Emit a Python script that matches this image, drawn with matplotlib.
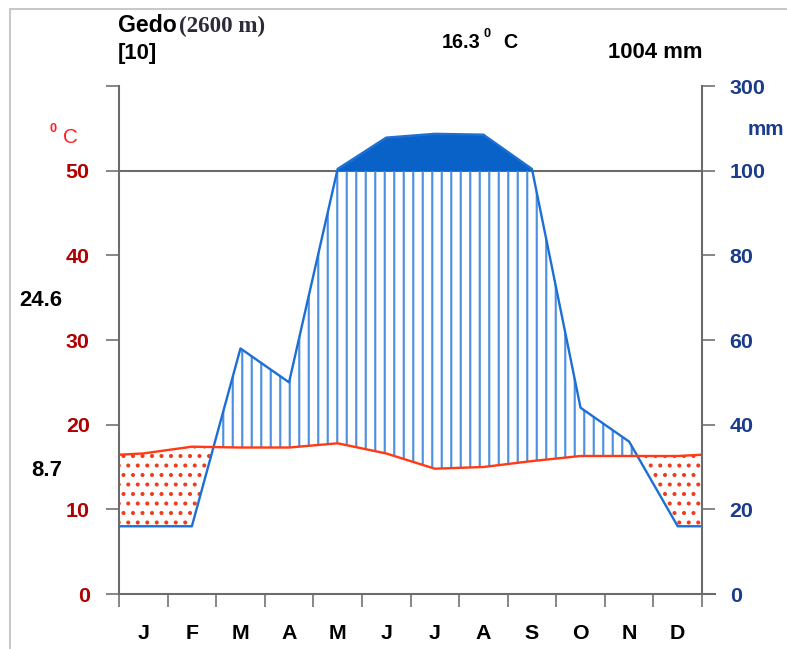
import matplotlib
matplotlib.use("Agg")
import matplotlib.pyplot as plt
import numpy as np
from matplotlib.patches import Rectangle

# Walter-Lieth diagram, Gedo station
months = ["J", "F", "M", "A", "M", "J", "J", "A", "S", "O", "N", "D"]
temp = [16.6, 17.4, 17.3, 17.3, 17.8, 16.6, 14.8, 15.0, 15.7, 16.3, 16.3, 16.3]  # deg C
precip = [16, 16, 58, 50, 104, 178, 187, 185, 104, 44, 36, 16]  # mm

left_ticks = [0, 10, 20, 30, 40, 50, 60]
left_labels = ["0", "10", "20", "30", "40", "50", ""]
right_labels = ["0", "20", "40", "60", "80", "100", "300"]

station = "Gedo"
altitude = "(2600 m)"
years = "[10]"
mean_temp = "16.3"
total_rain = "1004 mm"
abs_max = "24.6"
abs_min = "8.7"

# colours
line_red = "#ff3a14"
dot_red = "#f03c1e"
line_blue = "#1e6fd4"
hatch_blue = "#4d8fe0"
solid_blue = "#0862c8"
axis_gray = "#6b6b6b"
lab_red = "#b00000"
lab_navy = "#1a3c8c"

W, H, DPI = 787, 649, 114
plt.rcParams["hatch.linewidth"] = 1.35
plt.rcParams["font.family"] = ["Liberation Sans", "DejaVu Sans"]

fig = plt.figure(figsize=(W / DPI, H / DPI), dpi=DPI)
fig.patches.append(Rectangle((10 / W, -0.1), 1.2, 1.1 - 9 / H, transform=fig.transFigure,
                             fill=False, edgecolor="#c8c8c8", linewidth=1.3))

ax = fig.add_axes([119 / W, 1 - 594 / H, 583 / W, 508 / H])

# month midpoints, ends closed with the Dec/Jan mean
x = np.concatenate([[0], np.arange(12) + 0.5, [12]])
t = np.array(temp)
t = np.concatenate([[(t[0] + t[-1]) / 2], t, [(t[0] + t[-1]) / 2]])
p = np.array(precip, dtype=float)
p = np.concatenate([[(p[0] + p[-1]) / 2], p, [(p[0] + p[-1]) / 2]])
pp = np.where(p <= 100, p / 2, 50 + (p - 100) / 20)  # scale reduced above 100 mm
upper = np.minimum(pp, 50)

ax.axhline(50, color=axis_gray, lw=1.3, zorder=1)
ax.fill_between(x, t, upper, where=upper >= t, interpolate=True, facecolor="none",
                edgecolor=hatch_blue, hatch="||", linewidth=0, zorder=2)
ax.fill_between(x, pp, t, where=t >= pp, interpolate=True, facecolor="none",
                edgecolor=dot_red, hatch="..", linewidth=0, zorder=2)
ax.fill_between(x, 50, pp, where=pp >= 50, interpolate=True, color=solid_blue,
                linewidth=0, zorder=3)
ax.plot(x, pp, color=line_blue, lw=1.5, zorder=4)
ax.plot(x, t, color=line_red, lw=1.5, zorder=5)

ax.set_xlim(0, 12)
ax.set_ylim(0, 60)
for s in ["top", "right"]:
    ax.spines[s].set_visible(False)
for s in ["left", "bottom"]:
    ax.spines[s].set_color(axis_gray)
    ax.spines[s].set_linewidth(1.3)

ax.set_xticks(np.arange(13))
ax.set_xticklabels([])
ax.set_xticks(np.arange(12) + 0.5, minor=True)
ax.set_xticklabels(months, minor=True, fontsize=13.5, fontweight="bold")
ax.tick_params(axis="x", which="major", length=8, width=1, color=axis_gray, direction="out")
ax.tick_params(axis="x", which="minor", length=0, pad=19)

ax.set_yticks(left_ticks)
ax.set_yticklabels(left_labels, fontsize=13.5, fontweight="bold", color=lab_red)
ax.tick_params(axis="y", length=8, width=1, color=axis_gray, pad=10.5)

ax2 = ax.twinx()
ax2.set_ylim(0, 60)
for s in ["top", "left", "bottom"]:
    ax2.spines[s].set_visible(False)
ax2.spines["right"].set_color(axis_gray)
ax2.spines["right"].set_linewidth(1.3)
ax2.set_yticks(left_ticks)
ax2.set_yticklabels(right_labels, fontsize=13.5, fontweight="bold", color=lab_navy)
ax2.tick_params(axis="y", length=8, width=1, color=axis_gray, pad=9.5)
# bottom spine runs out to the right 0 tick
ax.plot([12, 12.27], [0, 0], color=axis_gray, lw=1.3, clip_on=False)

def ftext(px, py, s, **kw):
    fig.text(px / W, 1 - py / H, s, **kw)

ftext(118, 32.5, station, fontsize=14.5, fontweight="bold", va="baseline")
ftext(179, 32.5, altitude, fontsize=14.5, family="Liberation Serif", fontweight="bold",
      color="#2b2b3a", va="baseline")
ftext(118, 59, years, fontsize=14, fontweight="bold", va="baseline")
ftext(442, 48, mean_temp, fontsize=12.5, fontweight="bold", va="baseline")
ftext(484, 37, "0", fontsize=8, fontweight="bold", va="baseline")
ftext(503, 48, "C", fontsize=12.5, fontweight="bold", va="baseline")
ftext(703, 58, total_rain, fontsize=14, fontweight="bold", ha="right", va="baseline")
ftext(49, 132, "0", fontsize=8, color="#ff2020", fontweight="bold", va="baseline")
ftext(63, 143, "C", fontsize=13, color="#ff2020", va="baseline")
ftext(748, 135, "mm", fontsize=13, fontweight="bold", color=lab_navy, va="baseline")
ftext(62, 306, abs_max, fontsize=14, fontweight="bold", ha="right", va="baseline")
ftext(62, 476, abs_min, fontsize=14, fontweight="bold", ha="right", va="baseline")

fig.savefig("out.png", dpi=DPI)
